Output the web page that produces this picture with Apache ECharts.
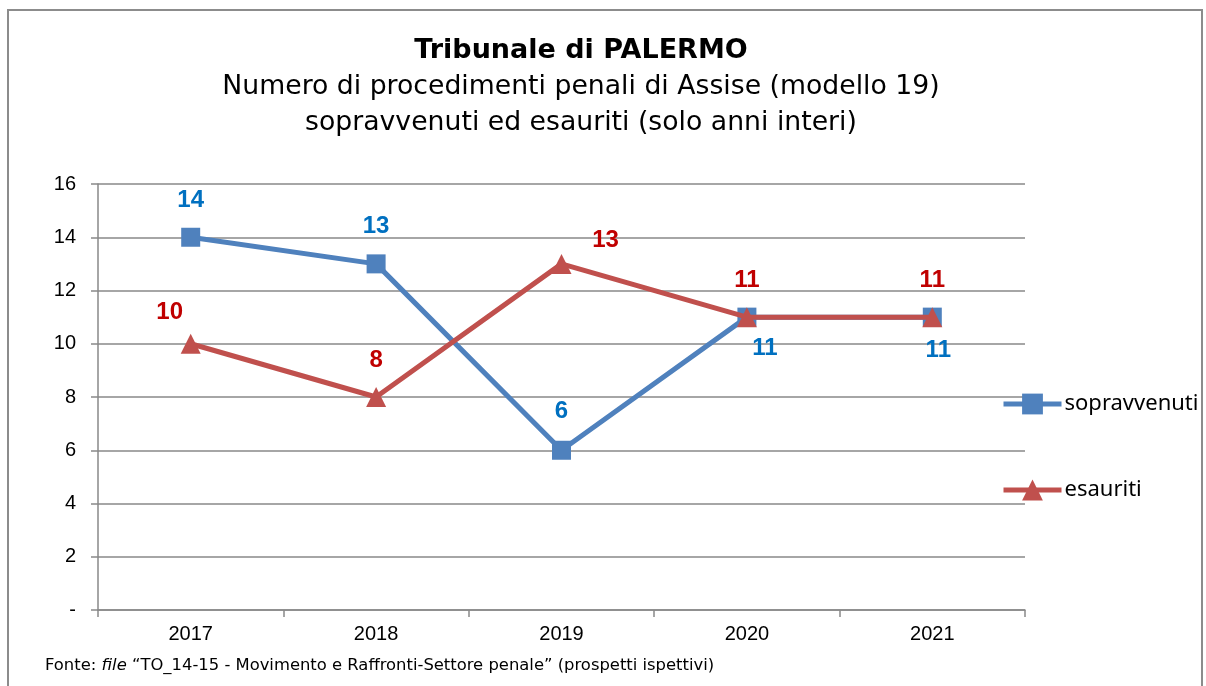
<!DOCTYPE html>
<html>
<head>
<meta charset="utf-8">
<script src="https://cdn.jsdelivr.net/npm/echarts@6/dist/echarts.min.js"></script>
<style>
  html, body { margin: 0; padding: 0; background: #fff; }
  #chart { width: 1206px; height: 686px; }
</style>
</head>
<body>
<div id="chart"></div>
<script>
// dati
const anni = ['2017', '2018', '2019', '2020', '2021']
const sopravvenuti = [14, 13, 6, 11, 11]
const esauriti = [10, 8, 13, 11, 11]
const yTicks = [0, 2, 4, 6, 8, 10, 12, 14, 16]

// spostamento delle etichette rispetto al punto (px)
const offSop = [[0, -37], [0, -38], [0, -39], [18, 31], [6, 33]]
const offEsa = [[-21, -31], [0, -37], [44, -24], [0, -37], [0, -37]]

const chart = echarts.init(document.getElementById('chart'))

function withLabels(values, offsets) {
  return values.map((v, i) => ({ value: v, label: { offset: offsets[i] } }))
}

const labelBase = {
  show: true,
  position: 'inside',
  fontFamily: 'Liberation Sans',
  fontWeight: 'bold',
  fontSize: 24
}

chart.setOption({
  animation: false,
  title: {
    left: 576,
    top: 28,
    textAlign: 'center',
    text: '{b|Tribunale di PALERMO}\n{n|Numero di procedimenti penali di Assise (modello 19)}\n{n|sopravvenuti ed esauriti (solo anni interi)}',
    textStyle: {
      rich: {
        b: { fontFamily: 'DejaVu Sans', fontWeight: 'bold', fontSize: 27, color: '#000', lineHeight: 36, align: 'center' },
        n: { fontFamily: 'DejaVu Sans', fontWeight: 'normal', fontSize: 26.7, color: '#000', lineHeight: 36, align: 'center' }
      }
    }
  },
  graphic: [
    {
      type: 'rect',
      shape: { x: 8, y: 10, width: 1194, height: 700 },
      style: { fill: 'none', stroke: '#8c8c8c', lineWidth: 2 },
      silent: true
    },
    {
      type: 'text',
      left: 45,
      top: 658,
      style: {
        text: 'Fonte: {i|file} “TO_14-15 - Movimento e Raffronti-Settore penale” (prospetti ispettivi)',
        fontFamily: 'DejaVu Sans',
        fontSize: 16.4,
        fill: '#000',
        rich: {
          i: { fontFamily: 'DejaVu Sans', fontStyle: 'italic', fontSize: 16.4 }
        }
      }
    }
  ],
  legend: {
    orient: 'vertical',
    left: 996,
    top: 387,
    itemWidth: 58,
    itemHeight: 26,
    itemGap: 62,
    lineStyle: { width: 5 },
    textStyle: { fontFamily: 'Noto Sans', fontSize: 22, color: '#000', lineHeight: 24, padding: [0, 0, 0, -2] },
    data: ['sopravvenuti', 'esauriti']
  },
  grid: { left: 98, right: 181, top: 184, bottom: 76 },
  xAxis: {
    type: 'category',
    data: anni,
    boundaryGap: true,
    axisLine: { lineStyle: { color: '#898989', width: 1.5 } },
    axisTick: { show: true, length: 7, lineStyle: { color: '#898989', width: 1.5 } },
    axisLabel: { fontFamily: 'Liberation Sans', fontSize: 20, color: '#000', margin: 14 }
  },
  yAxis: {
    type: 'value',
    min: yTicks[0],
    max: yTicks[yTicks.length - 1],
    interval: 2,
    axisLine: { show: true, lineStyle: { color: '#898989', width: 1.5 } },
    axisTick: { show: true, length: 7, lineStyle: { color: '#898989', width: 1.5 } },
    axisLabel: {
      fontFamily: 'Liberation Sans',
      fontSize: 20,
      color: '#000',
      margin: 22,
      formatter: v => (v === 0 ? '-' : v)
    },
    splitLine: { lineStyle: { color: '#898989', width: 1.5 } }
  },
  series: [
    {
      name: 'sopravvenuti',
      type: 'line',
      data: withLabels(sopravvenuti, offSop),
      symbol: 'rect',
      symbolSize: 19,
      lineStyle: { color: '#4F81BD', width: 5 },
      itemStyle: { color: '#4F81BD' },
      label: Object.assign({}, labelBase, { color: '#0070C0' }),
      z: 2
    },
    {
      name: 'esauriti',
      type: 'line',
      data: withLabels(esauriti, offEsa),
      symbol: 'triangle',
      symbolSize: 20,
      lineStyle: { color: '#C0504D', width: 5 },
      itemStyle: { color: '#C0504D' },
      label: Object.assign({}, labelBase, { color: '#C00000' }),
      z: 3
    }
  ]
})
</script>
</body>
</html>
